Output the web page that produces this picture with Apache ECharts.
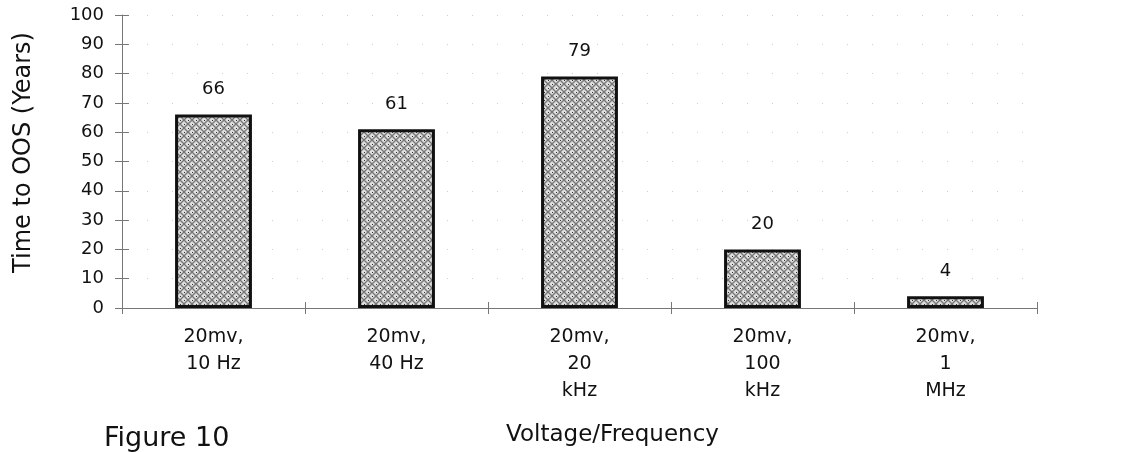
<!DOCTYPE html>
<html>
<head>
<meta charset="utf-8">
<script src="https://cdn.jsdelivr.net/npm/echarts@6/dist/echarts.min.js"></script>
<style>html,body{margin:0;padding:0;background:#fff}#c{width:1128px;height:452px}</style>
</head>
<body>
<div id="c"></div>
<script>
const categories = ['20mv,\n10 Hz', '20mv,\n40 Hz', '20mv,\n20\nkHz', '20mv,\n100\nkHz', '20mv,\n1\nMHz'];
const values = [66, 61, 79, 20, 4];
const yTicks = { min: 0, max: 100, interval: 10 };
const yTitle = 'Time to OOS (Years)';
const xTitle = 'Voltage/Frequency';
const figLabel = 'Figure 10';

function hatch() {
  const c = document.createElement('canvas');
  c.width = 8; c.height = 8;
  const g = c.getContext('2d');
  g.fillStyle = '#dedede'; g.fillRect(0, 0, 8, 8);
  g.strokeStyle = '#767676'; g.lineWidth = 1.3;
  g.beginPath(); g.moveTo(0, 0); g.lineTo(8, 8); g.stroke();
  g.beginPath(); g.moveTo(8, 0); g.lineTo(0, 8); g.stroke();
  g.fillStyle = '#333';
  g.fillRect(0, 4, 1, 1); g.fillRect(4, 0, 1, 1);
  return c;
}

const font = '"DejaVu Sans", "Liberation Sans", Arial, sans-serif';
const chart = echarts.init(document.getElementById('c'));
chart.setOption({
  animation: false,
  grid: { left: 122, right: 91, top: 15, bottom: 144 },
  xAxis: [{
    type: 'category',
    data: categories,
    name: xTitle,
    nameLocation: 'middle',
    nameGap: 116,
    nameTextStyle: { fontFamily: font, fontSize: 23, color: '#111', padding: [0, 0, 0, 66] },
    axisLine: { lineStyle: { color: '#777', width: 1 } },
    axisTick: { show: true, length: 6, lineStyle: { color: '#777' } },
    axisLabel: { fontFamily: font, fontSize: 19, color: '#111', lineHeight: 27, margin: 16 },
    splitLine: { show: false }
  }, {
    type: 'category', position: 'bottom',
    data: categories,
    axisLine: { show: false },
    axisTick: { show: true, inside: true, length: 6, lineStyle: { color: '#777' } },
    axisLabel: { show: false },
    splitLine: { show: false }
  }],
  yAxis: [{
    type: 'value',
    min: yTicks.min, max: yTicks.max, interval: yTicks.interval,
    name: yTitle,
    nameLocation: 'middle',
    nameGap: 86,
    nameTextStyle: { fontFamily: font, fontSize: 24, color: '#111', padding: [0, 0, 0, 18] },
    axisLine: { show: true, lineStyle: { color: '#777', width: 1 } },
    axisTick: { show: true, length: 7, lineStyle: { color: '#777' } },
    axisLabel: { fontFamily: font, fontSize: 18, color: '#111', margin: 18 },
    splitLine: { show: true, lineStyle: { color: '#cfcfcf', type: [1, 24], width: 1 } }
  }, {
    type: 'value', position: 'left',
    min: yTicks.min, max: yTicks.max, interval: yTicks.interval,
    axisLine: { show: false },
    axisTick: { show: true, inside: true, length: 7, lineStyle: { color: '#777' } },
    axisLabel: { show: false },
    splitLine: { show: false }
  }],
  series: [{
    type: 'bar',
    data: values,
    barWidth: '42%',
    itemStyle: {
      color: { image: hatch(), repeat: 'repeat' },
      borderColor: '#111',
      borderWidth: 3
    },
    label: {
      show: true, position: 'top', distance: 16,
      fontFamily: font, fontSize: 18, color: '#111'
    }
  }],
  graphic: [{
    type: 'text', left: 104, top: 425,
    style: { text: figLabel, font: '27px ' + font, fill: '#111' }
  }]
});
</script>
</body>
</html>
